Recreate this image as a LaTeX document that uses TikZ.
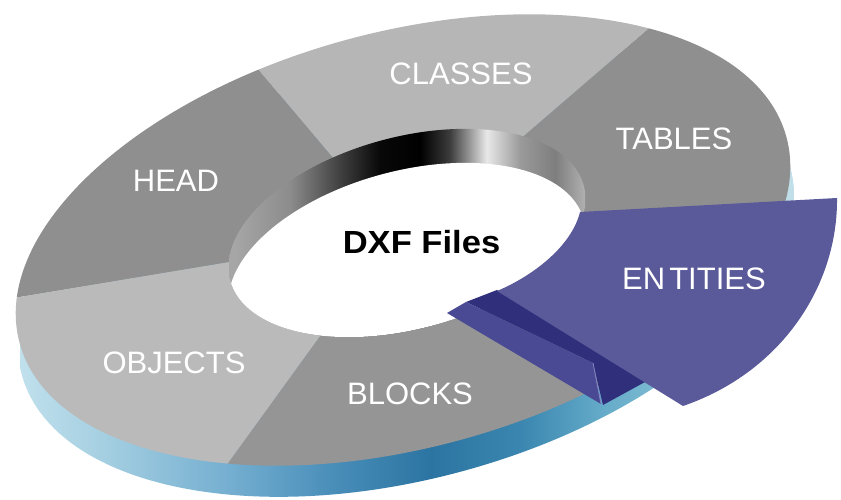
\documentclass[tikz,border=0pt]{standalone}
\usepackage{fontspec}
\setmainfont{Liberation Sans}

% segment colours
\definecolor{segdark}{HTML}{8F8F8F}
\definecolor{segblocks}{HTML}{959595}
\definecolor{seglight}{HTML}{B6B6B6}
\definecolor{segobj}{HTML}{BABABA}
\definecolor{piecefill}{HTML}{5A5A9B}
\definecolor{groovedark}{HTML}{2F2F7C}
\definecolor{groovemid}{HTML}{4A4A94}
\definecolor{grooveedge}{HTML}{8484C4}

% inner wall gradient stops
\definecolor{wa}{HTML}{A6A6A6}
\definecolor{wb}{HTML}{8C8C8C}
\definecolor{wc}{HTML}{404040}
\definecolor{wd}{HTML}{080808}
\definecolor{we}{HTML}{000000}
\definecolor{wf}{HTML}{3C3C3C}
\definecolor{wg}{HTML}{E8E8E8}
\definecolor{wh}{HTML}{9A9A9A}
\definecolor{wi}{HTML}{7E7E7E}
\definecolor{wj}{HTML}{B0B0B0}

% outer side gradient stops
\definecolor{sa}{HTML}{C0E0EC}
\definecolor{sb}{HTML}{A6D0E2}
\definecolor{sc}{HTML}{74AED0}
\definecolor{sd}{HTML}{4A8FBA}
\definecolor{se}{HTML}{2C74A2}
\definecolor{sf}{HTML}{3A86B0}
\definecolor{sg}{HTML}{64AAC8}
\definecolor{sh}{HTML}{8EC6D8}
\definecolor{si}{HTML}{C2E0EA}

\pgfdeclarehorizontalshading{wallshade}{100bp}{%
  color(0bp)=(wa); color(25.8bp)=(wa); color(33.6bp)=(wb); color(40.6bp)=(wc);
  color(46.2bp)=(wd); color(51.8bp)=(we); color(56bp)=(wf); color(61.2bp)=(wg);
  color(65.9bp)=(wh); color(70.8bp)=(wi); color(75bp)=(wj); color(100bp)=(wj)}

\pgfdeclarehorizontalshading{sideshade}{100bp}{%
  color(0bp)=(sa); color(25bp)=(sa); color(30.2bp)=(sb); color(38.6bp)=(sc);
  color(45bp)=(sd); color(51.5bp)=(se); color(57.3bp)=(sf); color(62.5bp)=(sg);
  color(68.9bp)=(sh); color(75bp)=(si); color(100bp)=(si)}

\tikzset{
  seglabel/.style={text=white, font=\fontsize{31}{31}\selectfont, inner sep=0pt},
  hublabel/.style={text=black, font=\fontsize{32}{32}\selectfont\bfseries, inner sep=0pt},
  ringtop/.style={rotate around={15:(403,260)}},
  ringside/.style={rotate around={15:(406,229)}},
  holetop/.style={rotate around={15:(407,267)}},
  holefloor/.style={rotate around={15:(407,233)}}
}

\begin{document}
\begin{tikzpicture}[x=1pt,y=1pt]
\useasboundingbox (0,0) rectangle (841,500);

% key points of the segment borders
\coordinate (c)   at (407,267);
\coordinate (b1i) at (360,310); \coordinate (b1f) at (149,560);
\coordinate (b2i) at (490,335); \coordinate (b2f) at (751,560);
\coordinate (b3i) at (260,243); \coordinate (b3f) at (-40,193);
\coordinate (b4i) at (350,205); \coordinate (b4f) at (158,-60);
\coordinate (b5i) at (420,203); \coordinate (b5f) at (867,-60);

% outer side of the ring
\begin{scope}
  \clip[ringside] (406,229) ellipse [x radius=398, y radius=208];
  \shade[shading=sideshade] (20,0) rectangle (794,470);
\end{scope}

% top face of the ring, split into its sections
\begin{scope}
  \clip[ringtop] (403,260) ellipse [x radius=397, y radius=208];
  \fill[segdark]   (c) -- (b2i) -- (b2f) -- (900,560) -- (900,-60) -- (b5f) -- (b5i) -- cycle;
  \fill[seglight]  (c) -- (b1i) -- (b1f) -- (b2f) -- (b2i) -- cycle;
  \fill[segdark]   (c) -- (b3i) -- (b3f) -- (-40,560) -- (b1f) -- (b1i) -- cycle;
  \fill[segobj]    (c) -- (b4i) -- (b4f) -- (-40,-60) -- (b3f) -- (b3i) -- cycle;
  \fill[segblocks] (c) -- (b5i) -- (b5f) -- (b4f) -- (b4i) -- cycle;
\end{scope}

% inner wall and the opening
\begin{scope}
  \clip[holetop] (407,267) ellipse [x radius=183, y radius=96];
  \shade[shading=wallshade] (229,150) rectangle (585,380);
  \fill[white, holefloor] (407,233) ellipse [x radius=183, y radius=96];
\end{scope}

% groove left by the pulled-out section
\fill[groovedark] (466,198) -- (497,210) -- (645,118) -- (603,95) -- (593,137) -- cycle;
\fill[groovemid]  (447,187) -- (466,198) -- (593,137) -- (601,96) -- cycle;
\draw[grooveedge, line width=0.8pt] (593,137) -- (601,96);

% pulled-out ENTITIES section
\fill[piecefill] (580,288) -- (837,302)
  .. controls (838,215) and (782,128) .. (683,94)
  -- (497,209)
  .. controls (535,225) and (572,255) .. (580,288) -- cycle;

% labels
\node[seglabel] (classes)  at (461,426)   {CLASSES};
\node[seglabel] (head)     at (176,319.5) {HEAD};
\node[seglabel] (tables)   at (674,361)   {TABLES};
\node[seglabel] (entities) at (694,221.5) {EN\kern4pt TITIES};
\node[seglabel] (objects)  at (174,137)   {OBJECTS};
\node[seglabel] (blocks)   at (410,106)   {BLOCKS};
\node[hublabel] (dxf)      at (421.5,258) {\scalebox{1.08}[1]{DXF Files}};
\end{tikzpicture}
\end{document}
